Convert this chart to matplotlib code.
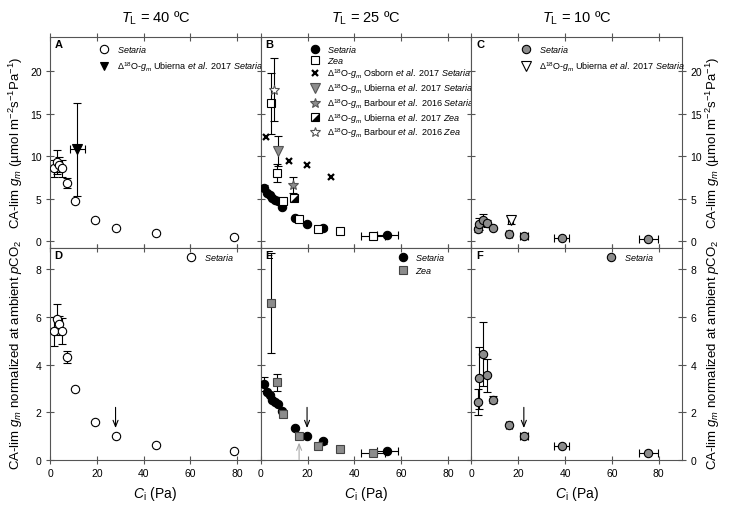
import matplotlib as mpl

mpl.use("Agg")
import matplotlib.pyplot as plt
import numpy as np
from matplotlib.lines import Line2D
from matplotlib.legend_handler import HandlerTuple

plt.rcParams.update({
    "font.family": "Liberation Sans",
    "mathtext.fontset": "custom",
    "mathtext.rm": "Liberation Sans",
    "mathtext.it": "Liberation Sans:italic",
    "mathtext.bf": "Liberation Sans:bold",
    "axes.linewidth": 0.8,
    "axes.edgecolor": "#555555",
    "xtick.color": "#555555",
    "ytick.color": "#555555",
    "xtick.labelcolor": "black",
    "ytick.labelcolor": "black",
})

GRAY = "#8c8c8c"
INK = "black"

# ---- data ---------------------------------------------------------------
# 40 C Setaria (A absolute, D normalised)
ci_40 = [1.7, 2.8, 4.0, 5.2, 7.1, 10.7, 19.1, 28.0, 45.4, 78.7]
gm_40 = [8.6, 9.3, 9.0, 8.6, 6.8, 4.7, 2.5, 1.6, 0.95, 0.55]
gm_40_err = [1.0, 1.4, 0.9, 1.0, 0.6, 0, 0, 0, 0, 0]
norm_40 = [5.4, 5.9, 5.7, 5.4, 4.3, 2.98, 1.57, 1.0, 0.62, 0.35]
norm_40_err = [0.6, 0.65, 0.35, 0.55, 0.25, 0, 0, 0, 0, 0]
ub40_ci, ub40_gm, ub40_xerr, ub40_yerr = [11.6], [10.8], [3.2], [5.5]

# 25 C Setaria
ci_25s = [1.6, 2.9, 4.0, 4.9, 6.1, 7.2, 9.3, 14.7, 19.8, 26.6, 54.0]
ci_25s_xerr = [0, 0, 0, 0, 0, 0, 0, 0, 0, 0, 4.5]
gm_25s = [6.3, 5.7, 5.4, 5.1, 4.9, 4.7, 4.0, 2.7, 2.05, 1.55, 0.7]
gm_25s_err = [0.3, 0, 0, 0, 0, 0, 0, 0, 0, 0.2, 0]
norm_25s = [3.19, 2.84, 2.70, 2.53, 2.42, 2.35, 2.04, 1.33, 1.01, 0.77, 0.35]
norm_25s_err = [0.3, 0, 0, 0, 0, 0, 0, 0, 0, 0.1, 0]
# 25 C Zea
ci_25z = [4.3, 7.0, 9.4, 16.2, 24.5, 33.8, 47.9]
ci_25z_xerr = [0, 0, 0, 0, 0, 1.0, 5.0]
gm_25z = [16.2, 8.0, 4.7, 2.6, 1.4, 1.2, 0.6]
gm_25z_err = [3.6, 1.1, 0, 0, 0, 0, 0]
norm_25z = [6.6, 3.26, 1.92, 1.01, 0.56, 0.45, 0.27]
norm_25z_err = [2.1, 0.36, 0, 0, 0, 0, 0]
# 25 C D18O estimates
osb_ci, osb_gm = [2.1, 12.2, 19.6, 29.9], [12.3, 9.4, 8.9, 7.5]
ub25s_ci, ub25s_gm, ub25s_err = [7.5], [10.6], [1.8]
bar25s_ci, bar25s_gm, bar25s_err = [13.6], [6.6], [0.9]
ub25z_ci, ub25z_gm = [14.3], [5.1]
bar25z_ci, bar25z_gm, bar25z_err = [5.8], [17.8], [3.7]

# 10 C Setaria
ci_10 = [2.9, 3.3, 4.8, 6.5, 9.3, 16.0, 22.4, 38.6, 75.5]
ci_10_xerr = [0, 0, 0, 0, 0, 1.3, 1.8, 3.2, 4.0]
gm_10 = [1.4, 2.0, 2.5, 2.1, 1.5, 0.9, 0.6, 0.35, 0.2]
gm_10_err = [0.3, 0.7, 0.75, 0.4, 0.1, 0, 0, 0, 0]
norm_10 = [2.42, 3.44, 4.45, 3.54, 2.53, 1.47, 1.01, 0.56, 0.3]
norm_10_err = [0.55, 1.3, 1.35, 0.7, 0.15, 0, 0, 0, 0]
ub10_ci, ub10_gm, ub10_xerr, ub10_yerr = [16.8], [2.5], [1.0], [0.5]

# ambient-pCO2 arrows (x position)
arrow_40, arrow_25s, arrow_25z, arrow_10 = 28.0, 19.8, 16.4, 22.4

TITLES = ["$T_{\\rm L}$ = 40 ºC", "$T_{\\rm L}$ = 25 ºC", "$T_{\\rm L}$ = 10 ºC"]
YLAB_TOP = "CA-lim $g_m$ (µmol m$^{-2}$s$^{-1}$Pa$^{-1}$)"
YLAB_BOT = "CA-lim $g_m$ normalized at ambient $p$CO$_2$"
D18 = "$\\Delta^{18}$O-$g_m$"

# ---- layout -------------------------------------------------------------
W, H = 729, 506
fig = plt.figure(figsize=(W / 100, H / 100), dpi=100)


def px_axes(left, top, w, h):
    return fig.add_axes([left / W, 1 - (top + h) / H, w / W, h / H])


PW = 210.7
lefts = [50, 50 + PW, 50 + 2 * PW]
axes_top = [px_axes(l, 38, PW, 211) for l in lefts]
axes_bot = [px_axes(l, 249, PW, 211.7) for l in lefts]


def points(ax, x, y, marker, fc, ec, ms=6, xerr=None, yerr=None, z=3):
    x = np.asarray(x, float)
    y = np.asarray(y, float)
    if yerr is not None:
        e = np.asarray(yerr, float)
        m = e > 0
        if m.any():
            ax.errorbar(x[m], y[m], yerr=e[m], fmt="none", ecolor=INK,
                        elinewidth=0.8, capsize=3, capthick=0.8, zorder=z - 0.5)
    if xerr is not None:
        e = np.asarray(xerr, float)
        m = e > 0
        if m.any():
            ax.errorbar(x[m], y[m], xerr=e[m], fmt="none", ecolor=INK,
                        elinewidth=0.8, capsize=3, capthick=0.8, zorder=z - 0.5)
    ax.plot(x, y, ls="none", marker=marker, mfc=fc, mec=ec, ms=ms, mew=0.8,
            zorder=z)


def h(marker, fc, ec, ms=6):
    return Line2D([], [], ls="none", marker=marker, mfc=fc, mec=ec, ms=ms,
                  mew=0.8)


def legend(ax, handles, labels, x, y, spacing=0.45):
    ax.legend(handles, labels, loc="upper left", bbox_to_anchor=(x, y),
              frameon=False, fontsize=6.5, handlelength=1.0,
              handletextpad=0.9, labelspacing=spacing, borderpad=0,
              borderaxespad=0, handler_map={tuple: HandlerTuple(ndivide=1)})


def arrow(ax, x, y0, y1, color=INK):
    ax.annotate("", xy=(x, y1), xytext=(x, y0),
                arrowprops=dict(arrowstyle="->,head_length=0.45,head_width=0.18",
                                color=color, lw=0.8, shrinkA=0, shrinkB=0))


HALF = [(-1, -1), (1, -1), (1, 1), (-1, -1)]

# A
ax = axes_top[0]
points(ax, ub40_ci, ub40_gm, "v", INK, INK, ms=6.5, xerr=ub40_xerr,
       yerr=ub40_yerr, z=4)
points(ax, ci_40, gm_40, "o", "white", INK, yerr=gm_40_err)
legend(ax, [h("o", "white", INK), h("v", INK, INK)],
       ["$Setaria$", D18 + " Ubierna $et\\ al.$ 2017 $Setaria$"], 0.237, 0.97,
       spacing=0.55)

# B
ax = axes_top[1]
points(ax, ci_25s, gm_25s, "o", INK, INK, xerr=ci_25s_xerr, yerr=gm_25s_err)
points(ax, ci_25z, gm_25z, "s", "white", INK, ms=5.5, xerr=ci_25z_xerr,
       yerr=gm_25z_err, z=3.2)
ax.plot(osb_ci, osb_gm, ls="none", marker="x", color=INK, ms=5, mew=1.6,
        zorder=4)
points(ax, ub25s_ci, ub25s_gm, "v", GRAY, "#555555", ms=6.5, yerr=ub25s_err, z=4)
points(ax, bar25s_ci, bar25s_gm, "*", GRAY, "#555555", ms=7.5, yerr=bar25s_err, z=4)
ax.plot(ub25z_ci, ub25z_gm, ls="none", marker="s", mfc="white", mec=INK,
        ms=5.5, mew=0.8, zorder=4)
ax.plot(ub25z_ci, ub25z_gm, ls="none", marker=HALF, mfc=INK, mec="none",
        ms=5.5, zorder=4.1)
points(ax, bar25z_ci, bar25z_gm, "*", "white", "#555555", ms=7.5,
       yerr=bar25z_err, z=4)
half_h = (h("s", "white", INK, 5.5),
          Line2D([], [], ls="none", marker=HALF, mfc=INK, mec="none", ms=5.5))
legend(ax,
       [h("o", INK, INK), h("s", "white", INK, 5.5),
        Line2D([], [], ls="none", marker="x", color=INK, ms=5, mew=1.6),
        h("v", GRAY, "#555555", 6.5), h("*", GRAY, "#555555", 7.5), half_h,
        h("*", "white", "#555555", 7.5)],
       ["$Setaria$", "$Zea$",
        D18 + " Osborn $et\\ al.$ 2017 $Setaria$",
        D18 + " Ubierna $et\\ al.$ 2017 $Setaria$",
        D18 + " Barbour $et\\ al.$ 2016 $Setaria$",
        D18 + " Ubierna $et\\ al.$ 2017 $Zea$",
        D18 + " Barbour $et\\ al.$ 2016 $Zea$"], 0.234, 0.97, spacing=0.12)

# C
ax = axes_top[2]
points(ax, ci_10, gm_10, "o", GRAY, INK, xerr=ci_10_xerr, yerr=gm_10_err)
points(ax, ub10_ci, ub10_gm, "v", "white", INK, ms=6.5, xerr=ub10_xerr,
       yerr=ub10_yerr, z=4)
legend(ax, [h("o", GRAY, INK), h("v", "white", INK, 6.5)],
       ["$Setaria$", D18 + " Ubierna $et\\ al.$ 2017 $Setaria$"], 0.239, 0.97,
       spacing=0.55)

# D
ax = axes_bot[0]
points(ax, ci_40, norm_40, "o", "white", INK, yerr=norm_40_err)
arrow(ax, arrow_40, 2.2, 1.33)
legend(ax, [h("o", "white", INK)], ["$Setaria$"], 0.65, 0.985)

# E
ax = axes_bot[1]
points(ax, ci_25s, norm_25s, "o", INK, INK, xerr=ci_25s_xerr, yerr=norm_25s_err)
points(ax, ci_25z, norm_25z, "s", GRAY, "#444444", ms=5.5, xerr=ci_25z_xerr,
       yerr=norm_25z_err, z=3.2)
arrow(ax, arrow_25s, 2.2, 1.33)
arrow(ax, arrow_25z, 0.0, 0.72, color="#aaaaaa")
legend(ax, [h("o", INK, INK), h("s", GRAY, "#444444", 5.5)],
       ["$Setaria$", "$Zea$"], 0.652, 0.985, spacing=0.3)

# F
ax = axes_bot[2]
points(ax, ci_10, norm_10, "o", GRAY, INK, xerr=ci_10_xerr, yerr=norm_10_err)
arrow(ax, arrow_10, 2.2, 1.33)
legend(ax, [h("o", GRAY, INK)], ["$Setaria$"], 0.642, 0.985)

# ---- axes styling -------------------------------------------------------
for i, (at, ab) in enumerate(zip(axes_top, axes_bot)):
    for ax, yl, yt in ((at, (-0.8, 24), [0, 5, 10, 15, 20]),
                       (ab, (0, 8.9), [0, 2, 4, 6, 8])):
        ax.set_xlim(0, 90)
        ax.set_ylim(*yl)
        ax.set_xticks([0, 20, 40, 60, 80])
        ax.set_yticks(yt)
        ax.tick_params(direction="inout", length=6, width=0.8, labelsize=7.5,
                       top=True, right=False, pad=3)
        ax.tick_params(axis="y", labelleft=(i == 0), labelright=(i == 2),
                       right=(i == 2))
    at.tick_params(axis="x", labelbottom=False)
    ab.set_xlabel("$C_{\\rm i}$ (Pa)", fontsize=10, labelpad=4)
    fig.text((lefts[i] + PW / 2) / W, 1 - 18 / H, TITLES[i], fontsize=10.5,
             ha="center", va="center")

for ax, letter in zip(axes_top + axes_bot, "ABCDEF"):
    ax.text(0.022, 0.965, letter, transform=ax.transAxes, fontsize=8,
            fontweight="bold", va="center", ha="left")

for xpos, rot in ((16, 90), (713, 90)):
    fig.text(xpos / W, 1 - 143 / H, YLAB_TOP, rotation=rot, fontsize=9.5,
             ha="center", va="center")
    fig.text(xpos / W, 1 - 355 / H, YLAB_BOT, rotation=rot, fontsize=9.5,
             ha="center", va="center")

fig.savefig("out.png", dpi=100)
